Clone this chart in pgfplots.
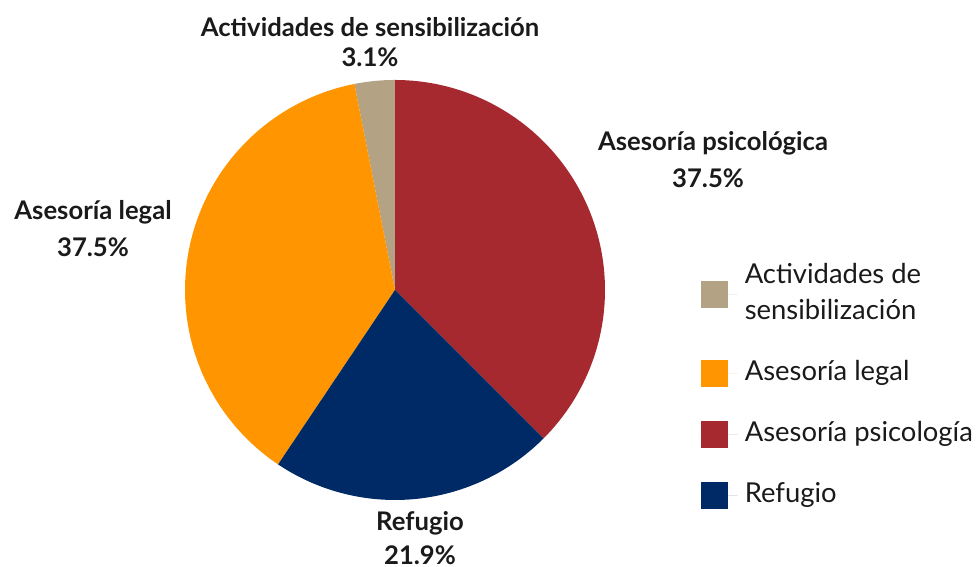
\documentclass[border=0pt]{standalone}
\usepackage{fontspec}
\setmainfont{Lato}
\usepackage{pgfplots}
\usepackage{pgfplotstable}
\pgfplotsset{compat=1.18}
\definecolor{cAct}{HTML}{B3A283}
\definecolor{cLeg}{HTML}{FF9500}
\definecolor{cPsi}{HTML}{A6292F}
\definecolor{cRef}{HTML}{002A66}
\definecolor{txt}{HTML}{1A1A1A}
\pgfplotstableread{
label value
act 3.1
legal 37.5
psic 37.5
ref 21.9
}\piedata
\pgfplotstablegetelem{0}{value}\of\piedata \let\vAct\pgfplotsretval
\pgfplotstablegetelem{1}{value}\of\piedata \let\vLeg\pgfplotsretval
\pgfplotstablegetelem{2}{value}\of\piedata \let\vPsi\pgfplotsretval
\pgfplotstablegetelem{3}{value}\of\piedata \let\vRef\pgfplotsretval
% clockwise from top: psic, ref, legal, act
\pgfmathsetmacro{\aA}{90}
\pgfmathsetmacro{\aB}{\aA-3.6*\vPsi}
\pgfmathsetmacro{\aC}{\aB-3.6*\vRef}
\pgfmathsetmacro{\aD}{\aC-3.6*\vLeg}
\pgfmathsetmacro{\aE}{\aD-3.6*\vAct}
\begin{document}
\begin{tikzpicture}
\begin{axis}[
  at={(0,0)}, anchor=south west,
  scale only axis, width=9.76cm, height=5.67cm,
  xmin=0, xmax=976, ymin=0, ymax=567,
  hide axis, clip=false,
  legend style={at={(axis cs:700,311)}, anchor=north west, draw=none, fill=none,
    font=\fontsize{7.8}{10.2}\selectfont\color{txt}, row sep=2.15mm,
    cells={align=left}, inner sep=0pt},
  legend cell align=left,
  legend image code/.code={\fill[#1] (0,-0.135cm) rectangle (0.27cm,0.135cm);
    \path (0,0) -- (0.37cm,0);},
]
\addplot[fill=cAct, draw=none, domain=\aE:\aD, samples=20, variable=\t]
  ({395+210*cos(\t)},{277+210*sin(\t)}) -- (axis cs:395,277) -- cycle;
\addlegendentry{Actividades de\\sensibilización}
\addplot[fill=cLeg, draw=none, domain=\aD:\aC, samples=90, variable=\t]
  ({395+210*cos(\t)},{277+210*sin(\t)}) -- (axis cs:395,277) -- cycle;
\addlegendentry{Asesoría legal}
\addplot[fill=cPsi, draw=none, domain=\aB:\aA, samples=90, variable=\t]
  ({395+210*cos(\t)},{277+210*sin(\t)}) -- (axis cs:395,277) -- cycle;
\addlegendentry{Asesoría psicología}
\addplot[fill=cRef, draw=none, domain=\aC:\aB, samples=60, variable=\t]
  ({395+210*cos(\t)},{277+210*sin(\t)}) -- (axis cs:395,277) -- cycle;
\addlegendentry{Refugio}
\begin{scope}[every node/.style={font=\fontsize{7.3}{9}\selectfont\bfseries, text=txt, align=center}]
\node at (axis cs:370,540) {Actividades de sensibilización};
\node at (axis cs:370,510) {3.1\%};
\node at (axis cs:713,424) {Asesoría psicológica};
\node at (axis cs:708,389) {37.5\%};
\node at (axis cs:93,355) {Asesoría legal};
\node at (axis cs:93,320) {37.5\%};
\node at (axis cs:420,44) {Refugio};
\node at (axis cs:420,12) {21.9\%};
\end{scope}
\end{axis}
\pgfresetboundingbox
\path (0,0) rectangle (9.76cm,5.67cm);
\end{tikzpicture}
\end{document}
